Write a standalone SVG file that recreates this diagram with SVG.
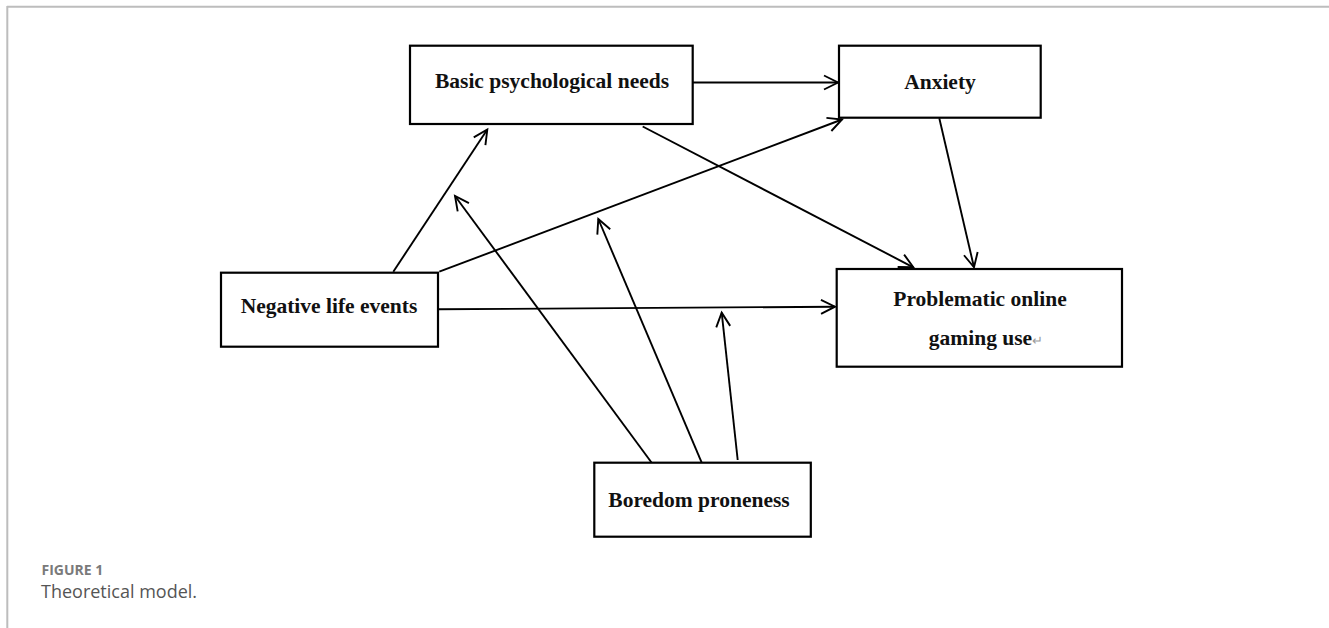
<svg xmlns="http://www.w3.org/2000/svg" width="1329" height="628" viewBox="0 0 1329 628">
  <style>
    .box { fill: #ffffff; stroke: #000000; stroke-width: 2.2; }
    .lbl { font-family: "Liberation Serif", "Times New Roman", serif; font-weight: bold; font-size: 21.5px; fill: #111111; text-anchor: middle; }
    .edge { stroke: #000000; stroke-width: 1.9; fill: none; marker-end: url(#arr); }
    .frame { stroke: #bdbdbd; stroke-width: 2; fill: none; }
    .cap1 { font-family: "Open Sans", "Noto Sans", sans-serif; font-weight: bold; font-size: 14px; fill: #7a7a7a; }
    .cap2 { font-family: "Open Sans", "Noto Sans", sans-serif; font-size: 18px; fill: #555555; }
  </style>
  <defs>
    <marker id="arr" markerUnits="userSpaceOnUse" markerWidth="20" markerHeight="18" refX="15" refY="7.5" orient="auto" overflow="visible">
      <path d="M1,0.5 L15,7.5 L1,14.5" fill="none" stroke="#000000" stroke-width="1.9" stroke-linejoin="miter"/>
    </marker>
  </defs>
  <rect width="1329" height="628" fill="#ffffff"/>
  <g id="frame">
    <line class="frame" x1="7" y1="6.7" x2="1329" y2="6.7"/>
    <line class="frame" x1="7.3" y1="6" x2="7.3" y2="628"/>
  </g>
  <g id="connectors">
    <line class="edge" x1="693" y1="82.5" x2="838" y2="82.5"/>
    <line class="edge" x1="393.3" y1="271.7" x2="487.3" y2="129.5"/>
    <line class="edge" x1="439.3" y1="271.7" x2="842" y2="119.5"/>
    <line class="edge" x1="642.7" y1="126.5" x2="913.3" y2="267.3"/>
    <line class="edge" x1="939.3" y1="118.3" x2="974" y2="267.3"/>
    <line class="edge" x1="438.3" y1="309.3" x2="835" y2="306.7"/>
    <line class="edge" x1="651.7" y1="462.7" x2="455" y2="196"/>
    <line class="edge" x1="701.7" y1="462.7" x2="598.3" y2="219"/>
    <line class="edge" x1="737.7" y1="460" x2="721.7" y2="312.7"/>
  </g>
  <g id="node-basic">
    <rect class="box" x="410" y="45.7" width="282.7" height="78.3"/>
    <text class="lbl" x="552" y="88">Basic psychological needs</text>
  </g>
  <g id="node-anxiety">
    <rect class="box" x="839" y="45.7" width="201.7" height="72"/>
    <text class="lbl" x="940" y="89">Anxiety</text>
  </g>
  <g id="node-negative">
    <rect class="box" x="221" y="272.7" width="217" height="74"/>
    <text class="lbl" x="329" y="313">Negative life events</text>
  </g>
  <g id="node-problematic">
    <rect class="box" x="836.7" y="269" width="285.3" height="97.7"/>
    <text class="lbl" x="980" y="306">Problematic online</text>
    <text class="lbl" x="986" y="345">gaming use<tspan font-weight="normal" font-size="13px" fill="#9a9a9a">↵</tspan></text>
  </g>
  <g id="node-boredom">
    <rect class="box" x="594.3" y="462.7" width="216.5" height="74"/>
    <text class="lbl" x="699" y="506.5">Boredom proneness</text>
  </g>
  <g id="caption">
    <text class="cap1" x="41.5" y="575">FIGURE 1</text>
    <text class="cap2" x="41" y="598">Theoretical model.</text>
  </g>
</svg>
